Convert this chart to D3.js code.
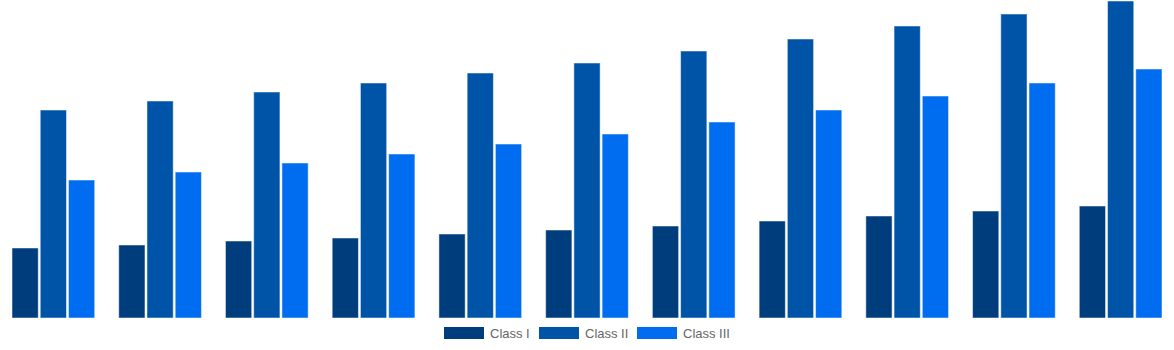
<!DOCTYPE html>
<html>
<head>
<meta charset="utf-8">
<script src="https://cdn.jsdelivr.net/npm/d3@7"></script>
<style>
  body { margin: 0; background: #fff; }
</style>
</head>
<body>
<script>
'use strict';

// chart values (arbitrary units)
const groups = ["1", "2", "3", "4", "5", "6", "7", "8", "9", "10", "11"];
const seriesNames = ["Class I", "Class II", "Class III"];
const classI = [70, 73, 77, 80, 84, 88, 92, 97, 102, 107, 112];
const classII = [208, 217, 226, 235, 245, 255, 267, 279, 292, 304, 317];
const classIII = [138, 146, 155, 164, 174, 184, 196, 208, 222, 235, 249];
const colors = ["#003d7d", "#0054a8", "#006cf0"];

(function() {
  const width = 1174, height = 350;
  const baseline = 318, top = 1;

  const svg = d3.select('body')
    .append('svg')
    .attr('width', width)
    .attr('height', height);

  const series = [classI, classII, classIII];

  // band per group, bars inside it
  const x0 = d3.scaleBand()
    .domain(groups)
    .range([0, width])
    .paddingInner(0.225)
    .paddingOuter(0.1125);

  const x1 = d3.scaleBand()
    .domain(seriesNames)
    .range([0, x0.bandwidth()])
    .paddingInner(0.07);

  const y = d3.scaleLinear()
    .domain([0, 317])
    .range([baseline, top]);

  const g = svg.selectAll('.group')
    .data(groups)
    .enter()
    .append('g')
      .attr('class', 'group')
      .attr('transform', d => 'translate(' + x0(d) + ',0)');

  g.selectAll('rect')
    .data((d, i) => seriesNames.map((s, k) => ({ name: s, value: series[k][i], k: k })))
    .enter()
    .append('rect')
      .attr('x', d => x1(d.name))
      .attr('y', d => y(d.value))
      .attr('width', x1.bandwidth())
      .attr('height', d => baseline - y(d.value))
      .attr('fill', d => colors[d.k])
      .attr('stroke', '#ffffff')
      .attr('stroke-opacity', 0.5)
      .attr('stroke-width', 1);

  // legend
  const legendX = [444, 539, 637];
  const legend = svg.selectAll('.legend')
    .data(seriesNames)
    .enter()
    .append('g')
      .attr('class', 'legend')
      .attr('transform', (d, i) => 'translate(' + legendX[i] + ',327)');

  legend.append('rect')
    .attr('width', 40)
    .attr('height', 12)
    .attr('fill', (d, i) => colors[i]);

  legend.append('text')
    .attr('x', 46)
    .attr('y', 11)
    .attr('font-family', '"Liberation Sans", Arial, sans-serif')
    .attr('font-size', 13)
    .attr('fill', '#666')
    .text(d => d);
})();
</script>
</body>
</html>
